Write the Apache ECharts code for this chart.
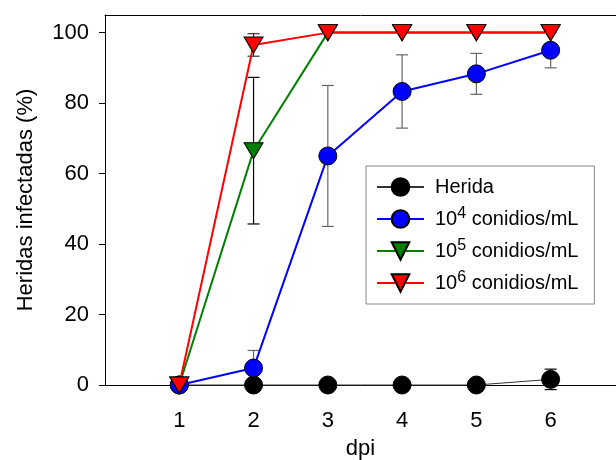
<!DOCTYPE html>
<html>
<head>
<meta charset="utf-8">
<script src="https://cdn.jsdelivr.net/npm/echarts@6/dist/echarts.min.js"></script>
<style>
  html, body { margin: 0; padding: 0; background: #fff; }
  #chart { width: 616px; height: 460px; }
</style>
</head>
<body>
<div id="chart"></div>
<script>
// data
const days = [1, 2, 3, 4, 5, 6];
const yTicks = [0, 20, 40, 60, 80, 100];
const seriesNames = ['Herida', '10^4 conidios/mL', '10^5 conidios/mL', '10^6 conidios/mL'];

const herida = [0, 0, 0, 0, 0, 1.6];
const heridaErr = [0, 0, 0, 0, 0, 2.9];
const con4 = [0, 4.8, 65, 83.3, 88.3, 95];
const con4Err = [0, 5, 20, 10.4, 5.8, 5];
const con5 = [0, 66.5, 100, 100, 100, 100];
const con5Err = [0, 20.8, 0, 0, 0, 0];
const con6 = [0, 96.5, 100, 100, 100, 100];
const con6Err = [0, 3.2, 0, 0, 0, 0];

const chart = echarts.init(document.getElementById('chart'));

const font = 'Liberation Sans, Arial, sans-serif';
const downTri = 'path://M0,0 L20,0 L10,17 Z';
// the plot runs off the right edge of the picture
const xMin = 0;
const xMax = 6.88;

function pairs(vals) {
  return days.map((d, i) => [d, vals[i]]);
}

// error bars: [x, low, high]
function errData(vals, errs) {
  const out = [];
  days.forEach((d, i) => {
    if (errs[i] > 0) out.push([d, vals[i] - errs[i], vals[i] + errs[i]]);
  });
  return out;
}

function errSeries(vals, errs, color, z) {
  return {
    type: 'custom',
    z: z,
    silent: true,
    clip: false,
    data: errData(vals, errs),
    renderItem: function (params, api) {
      const x = api.value(0);
      const lo = api.coord([x, api.value(1)]);
      const hi = api.coord([x, api.value(2)]);
      const w = 6;
      const style = { stroke: color, lineWidth: 1.2 };
      return {
        type: 'group',
        children: [
          { type: 'line', shape: { x1: lo[0], y1: lo[1], x2: hi[0], y2: hi[1] }, style: style },
          { type: 'line', shape: { x1: lo[0] - w, y1: lo[1], x2: lo[0] + w, y2: lo[1] }, style: style },
          { type: 'line', shape: { x1: hi[0] - w, y1: hi[1], x2: hi[0] + w, y2: hi[1] }, style: style }
        ]
      };
    }
  };
}

function lineSeries(name, vals, color, lineColor, lineWidth, symbol, size, z) {
  return {
    name: name,
    type: 'line',
    z: z,
    data: pairs(vals),
    symbol: symbol,
    symbolSize: size,
    showAllSymbol: true,
    clip: false,
    lineStyle: { color: lineColor, width: lineWidth },
    itemStyle: { color: color, borderColor: '#000', borderWidth: 1, opacity: 1 },
    emphasis: { disabled: true }
  };
}

const option = {
  animation: false,
  textStyle: { fontFamily: font },
  grid: {
    left: 105,
    top: 15,
    right: 0,
    bottom: 75,
    outerBoundsMode: 'none'
  },
  legend: {
    left: 366,
    top: 166,
    orient: 'vertical',
    padding: [11, 16, 11, 10],
    itemWidth: 47,
    itemHeight: 22,
    itemGap: 9,
    backgroundColor: '#fff',
    borderColor: '#888',
    borderWidth: 1,
    borderRadius: 0,
    data: seriesNames,
    formatter: function (name) {
      return name.replace(/\^(\d)/, '{sup|$1}');
    },
    textStyle: {
      fontFamily: font,
      fontSize: 20,
      color: '#000',
      padding: [0, 0, 0, 6],
      rich: {
        sup: { fontSize: 16, fontFamily: font, color: '#000', padding: [0, 0, 10, 0] }
      }
    }
  },
  xAxis: [{
    type: 'value',
    min: xMin,
    max: xMax,
    interval: 1,
    name: 'dpi',
    nameLocation: 'middle',
    nameGap: 53,
    nameTextStyle: { fontSize: 22, color: '#000', fontFamily: font },
    splitLine: { show: false },
    axisLine: { lineStyle: { color: '#000', width: 1 } },
    axisTick: { show: false },
    axisLabel: {
      customValues: days,
      fontSize: 22,
      color: '#000',
      margin: 25
    }
  }, {
    // top frame line
    type: 'value',
    position: 'top',
    min: xMin,
    max: xMax,
    interval: 1,
    splitLine: { show: false },
    axisLine: { show: true, lineStyle: { color: '#000', width: 1 } },
    axisTick: { show: false },
    axisLabel: { show: false }
  }],
  yAxis: {
    type: 'value',
    min: 0,
    max: 105,
    interval: 20,
    name: 'Heridas infectadas (%)',
    nameLocation: 'middle',
    nameGap: 68,
    nameTextStyle: { fontSize: 22, color: '#000', fontFamily: font },
    splitLine: { show: false },
    axisLine: { show: true, lineStyle: { color: '#000', width: 1 } },
    axisTick: { show: true, inside: false, length: 6, customValues: yTicks, lineStyle: { color: '#000' } },
    axisLabel: {
      customValues: yTicks,
      fontSize: 22,
      color: '#000',
      margin: 16
    }
  },
  series: [
    errSeries(herida, heridaErr, '#000', 1),
    errSeries(con4, con4Err, '#666', 1),
    errSeries(con5, con5Err, '#000', 1),
    errSeries(con6, con6Err, '#333', 1),
    lineSeries(seriesNames[0], herida, '#000', '#333', 1, 'circle', 18, 2),
    lineSeries(seriesNames[1], con4, '#0000ff', '#0000ff', 2, 'circle', 18, 3),
    lineSeries(seriesNames[2], con5, '#007f00', '#007f00', 2, downTri, [19, 16], 4),
    lineSeries(seriesNames[3], con6, '#ff0000', '#ff0000', 2, downTri, [19, 16], 5)
  ]
};

chart.setOption(option);
window.addEventListener('resize', () => chart.resize());
</script>
</body>
</html>
